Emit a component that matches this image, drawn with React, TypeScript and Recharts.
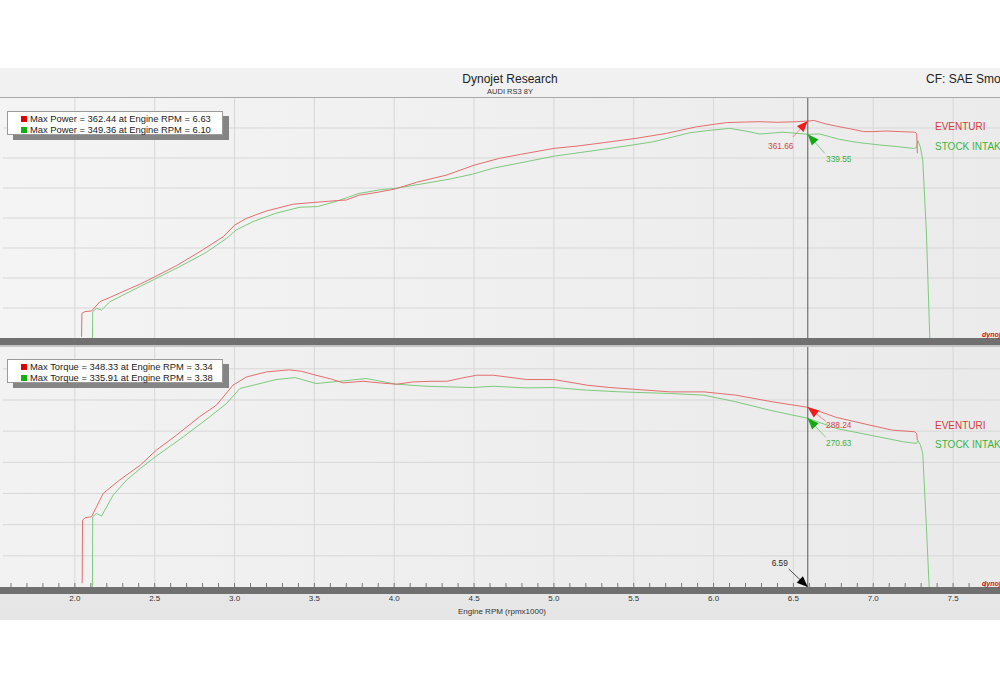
import React from "react"
import { LineChart, Line, XAxis, YAxis, ReferenceLine, ReferenceDot, Label } from "recharts"

// engine rpm (x1000) and power
const powerEventuriRpm = [2.042, 2.044, 2.063, 2.104, 2.157, 2.24, 2.324, 2.41, 2.5, 2.637, 2.8, 2.93, 3.0, 3.075, 3.2, 3.367, 3.5, 3.64, 3.7, 3.78, 3.9, 4.0, 4.14, 4.33, 4.5, 4.66, 4.79, 5.0, 5.15, 5.31, 5.52, 5.705, 5.893, 6.08, 6.2, 6.29, 6.4, 6.52, 6.59, 6.63, 6.7, 6.77, 6.85, 6.94, 7.0, 7.08, 7.17, 7.26, 7.272, 7.276]
const powerEventuriHp = [2, 41, 44, 45, 60.5, 70, 80, 90, 102, 120.6, 146.7, 169, 188, 199.5, 211.7, 223, 226, 229, 230, 238, 243, 248, 259.5, 271.7, 288, 299.5, 306, 316, 320, 325.5, 333, 341, 352, 359, 360, 360.5, 359.5, 360.5, 361.66, 362.44, 357, 353, 349, 344, 344, 345, 344, 343, 341, 308]

const powerStockRpm = [2.11, 2.112, 2.136, 2.167, 2.22, 2.324, 2.41, 2.5, 2.657, 2.825, 2.95, 3.01, 3.116, 3.26, 3.41, 3.52, 3.64, 3.78, 3.91, 4.01, 4.2, 4.35, 4.49, 4.62, 4.83, 5.0, 5.31, 5.5, 5.62, 5.745, 5.85, 5.955, 6.1, 6.2, 6.29, 6.435, 6.59, 6.665, 6.79, 6.9, 7.04, 7.15, 7.25, 7.27, 7.28, 7.295, 7.31, 7.333, 7.354]
const powerStockHp = [0, 44, 49.5, 46.7, 60.5, 74.5, 86, 98, 119, 143, 166, 180, 194, 208, 218, 219, 228, 241, 247, 249.5, 258, 265, 273, 283, 294, 303, 314.5, 322, 327, 335, 342, 345.5, 349.36, 345, 340, 343, 339.55, 340, 331, 326, 321.7, 319, 316, 317, 329, 318, 296.7, 175, 0]

// engine rpm (x1000) and torque
const torqueEventuriRpm = [2.046, 2.048, 2.063, 2.104, 2.136, 2.177, 2.28, 2.41, 2.51, 2.637, 2.78, 2.887, 2.99, 3.075, 3.2, 3.34, 3.42, 3.51, 3.6, 3.68, 3.805, 3.91, 4.014, 4.12, 4.23, 4.33, 4.42, 4.515, 4.62, 4.83, 5.0, 5.21, 5.35, 5.52, 5.73, 5.94, 6.14, 6.37, 6.59, 6.77, 6.98, 7.12, 7.26, 7.272, 7.276]
const torqueEventuriLbft = [6, 107, 111, 112.7, 128.7, 150, 171.5, 195.5, 219.5, 243.6, 273, 291.7, 323.7, 337, 345, 348.33, 346, 339.7, 334, 327.4, 330, 327.4, 325.3, 329, 330, 330, 335, 339.7, 339.7, 332.8, 332.8, 323.7, 320, 316.8, 313, 313, 307.7, 297, 288.24, 272, 259.6, 251.6, 249, 246, 235.6]

const torqueStockRpm = [2.11, 2.112, 2.136, 2.167, 2.24, 2.324, 2.41, 2.51, 2.68, 2.845, 2.95, 3.034, 3.16, 3.26, 3.38, 3.51, 3.68, 3.825, 4.014, 4.2, 4.49, 4.62, 4.83, 5.0, 5.21, 5.42, 5.73, 5.94, 6.14, 6.35, 6.59, 6.77, 6.98, 7.19, 7.27, 7.28, 7.295, 7.31, 7.333, 7.35]
const torqueStockLbft = [0, 112.7, 118, 113.8, 147.4, 171.5, 190, 210, 241, 273, 294.4, 318.4, 326.4, 332.8, 335.91, 326.4, 330.6, 334.4, 325.3, 322, 320, 322, 319.4, 320, 315.7, 313, 310.4, 307.7, 297, 283.7, 270.63, 254.3, 243.6, 232.9, 230.3, 235, 228, 214, 96.6, 0]

const rpmDomain: [number, number] = [1.55, 7.8]
const rpmMajor = [2.0, 2.5, 3.0, 3.5, 4.0, 4.5, 5.0, 5.5, 6.0, 6.5, 7.0, 7.5]
const yGrid = [50, 100, 150, 200, 250, 300, 350]
const cursorRpm = 6.59

const powerDomain: [number, number] = [0, 400]
const torqueDomain: [number, number] = [0, 385]

const rpmMinor = Array.from({ length: 63 }, (_, i) => Math.round((1.6 + i * 0.1) * 10) / 10)
const powerMinor = Array.from({ length: 41 }, (_, i) => i * 10)
const torqueMinor = Array.from({ length: 39 }, (_, i) => i * 10)

const RED = "#e36d6d"
const GREEN = "#7dca7d"
const FONT = "'Liberation Sans', Arial, sans-serif"
const W = 1001

const pts = (rpm: number[], v: number[]) => rpm.map((r, i) => ({ rpm: r, v: v[i] }))

function Pointer(props: any) {
  const { cx, cy, fill, lineColor, ex, ey, tx, ty, text, textColor } = props
  if (cx == null || cy == null) return null
  const len = Math.hypot(ex, ey)
  const ux = ex / len
  const uy = ey / len
  const bx = cx + ux * 11
  const by = cy + uy * 11
  const nx = -uy * 4.5
  const ny = ux * 4.5
  return (
    <g>
      <line x1={cx} y1={cy} x2={cx + ex} y2={cy + ey} stroke={lineColor} strokeWidth={0.8} />
      <polygon points={`${cx},${cy} ${bx + nx},${by + ny} ${bx - nx},${by - ny}`} fill={fill} />
      <text x={cx + tx} y={cy + ty} textAnchor="middle" fontSize={8.3} fill={textColor} fontFamily={FONT}>
        {text}
      </text>
    </g>
  )
}

const RpmTick = ({ x, y, payload }: any) => {
  const v = Number(payload.value)
  const major = rpmMajor.some((m) => Math.abs(m - v) < 1e-6)
  return (
    <g>
      <line x1={x} x2={x} y1={y - 4} y2={y} stroke="#777" strokeWidth={1} />
      {major && (
        <text x={x} y={y + 14} textAnchor="middle" fontSize={8} fill="#333" fontFamily={FONT}>
          {v.toFixed(1)}
        </text>
      )}
    </g>
  )
}

function gridLines() {
  return [
    ...rpmMajor.map((r) => <ReferenceLine key={`gx${r}`} x={r} stroke="#d7d7d7" strokeWidth={1} />),
    ...yGrid.map((g) => <ReferenceLine key={`gy${g}`} y={g} stroke="#d7d7d7" strokeWidth={1} />),
  ]
}

const Legend = ({ top, rows }: { top: number; rows: { color: string; text: string }[] }) => (
  <>
    <div style={{ position: "absolute", left: 13, top: top + 5, width: 216, height: 24, background: "#858585" }} />
    <div
      style={{
        position: "absolute",
        left: 7,
        top,
        width: 214,
        height: 22,
        background: "#fff",
        border: "1px solid #9a9a9a",
        fontFamily: FONT,
        fontSize: 9.4,
        color: "#222",
      }}
    >
      {rows.map((r, i) => (
        <div key={i} style={{ position: "absolute", left: 13, top: 1 + i * 11, height: 11, lineHeight: "11px", whiteSpace: "nowrap" }}>
          <span style={{ display: "inline-block", width: 6, height: 6, background: r.color, marginRight: 3, verticalAlign: "0px" }} />
          {r.text}
        </div>
      ))}
    </div>
  </>
)

const txt = (left: number, top: number, size: number, color: string, s: string, extra: any = {}) => (
  <div style={{ position: "absolute", left, top, fontSize: size, lineHeight: `${size}px`, color, fontFamily: FONT, whiteSpace: "nowrap", ...extra }}>
    {s}
  </div>
)

export default function App() {
  return (
    <div style={{ position: "fixed", left: 0, top: 0, width: 1000, height: 690, overflow: "hidden", background: "#fff" }}>
      {/* sheet background */}
      <div style={{ position: "absolute", left: 0, top: 68, width: 1000, height: 552, background: "linear-gradient(to bottom, #f1f1f1, #e6e6e6)" }} />
      <div style={{ position: "absolute", left: 0, top: 98, width: 1000, height: 240, background: "linear-gradient(to right, #f4f4f4, #ebebeb)" }} />
      <div style={{ position: "absolute", left: 0, top: 347, width: 1000, height: 240, background: "linear-gradient(to right, #f2f2f2, #eaeaea)" }} />
      <div style={{ position: "absolute", left: 0, top: 97, width: 1000, height: 1, background: "#a9a9a9" }} />

      {/* power panel */}
      <div style={{ position: "absolute", left: 0, top: 98 }}>
        <LineChart width={W} height={240} margin={{ top: 0, right: 0, bottom: 0, left: 0 }}>
          <XAxis type="number" dataKey="rpm" domain={rpmDomain} allowDataOverflow hide />
          <YAxis type="number" domain={powerDomain} ticks={powerMinor} width={3} tick={false} tickSize={3} axisLine={false} tickLine={{ stroke: "#777" }} allowDataOverflow />
          {gridLines()}
          <Line data={pts(powerStockRpm, powerStockHp)} dataKey="v" type="linear" stroke={GREEN} strokeWidth={1} dot={false} isAnimationActive={false} />
          <Line data={pts(powerEventuriRpm, powerEventuriHp)} dataKey="v" type="linear" stroke={RED} strokeWidth={1} dot={false} isAnimationActive={false} />
          <ReferenceLine x={cursorRpm} stroke="#5a5a5a" strokeWidth={1} />
          <ReferenceDot x={cursorRpm} y={361.66} r={0} ifOverflow="visible"
            shape={(p: any) => <Pointer {...p} fill="#ee1c1c" lineColor="#e07070" textColor="#d24848" ex={-15} ey={16} tx={-27} ty={28} text="361.66" />} />
          <ReferenceDot x={cursorRpm} y={339.55} r={0} ifOverflow="visible"
            shape={(p: any) => <Pointer {...p} fill="#14a814" lineColor="#6cc06c" textColor="#3cae3c" ex={17} ey={19} tx={31} ty={28} text="339.55" />} />
        </LineChart>
      </div>

      {/* torque panel */}
      <div style={{ position: "absolute", left: 0, top: 347 }}>
        <LineChart width={W} height={273} margin={{ top: 0, right: 0, bottom: 0, left: 0 }}>
          <XAxis type="number" dataKey="rpm" domain={rpmDomain} allowDataOverflow ticks={rpmMinor} interval={0} tick={<RpmTick />} tickSize={0} tickMargin={0} tickLine={false} axisLine={false} height={33}>
            <Label value="Engine RPM (rpmx1000)" position="insideBottom" offset={6} fontSize={8} fill="#333" fontFamily={FONT} />
          </XAxis>
          <YAxis type="number" domain={torqueDomain} ticks={torqueMinor} width={3} tick={false} tickSize={3} axisLine={false} tickLine={{ stroke: "#777" }} allowDataOverflow />
          {gridLines()}
          <Line data={pts(torqueStockRpm, torqueStockLbft)} dataKey="v" type="linear" stroke={GREEN} strokeWidth={1} dot={false} isAnimationActive={false} />
          <Line data={pts(torqueEventuriRpm, torqueEventuriLbft)} dataKey="v" type="linear" stroke={RED} strokeWidth={1} dot={false} isAnimationActive={false} />
          <ReferenceLine x={cursorRpm} stroke="#5a5a5a" strokeWidth={1} />
          <ReferenceDot x={cursorRpm} y={288.24} r={0} ifOverflow="visible"
            shape={(p: any) => <Pointer {...p} fill="#ee1c1c" lineColor="#e07070" textColor="#d24848" ex={18} ey={14} tx={31} ty={21} text="288.24" />} />
          <ReferenceDot x={cursorRpm} y={270.63} r={0} ifOverflow="visible"
            shape={(p: any) => <Pointer {...p} fill="#14a814" lineColor="#6cc06c" textColor="#3cae3c" ex={18} ey={19} tx={31} ty={27.5} text="270.63" />} />
          <ReferenceDot x={cursorRpm} y={0} r={0} ifOverflow="visible"
            shape={(p: any) => <Pointer {...p} fill="#000" lineColor="#222" textColor="#222" ex={-19} ey={-18} tx={-28} ty={-21} text="6.59" />} />
        </LineChart>
      </div>

      {/* axis bars */}
      <div style={{ position: "absolute", left: 0, top: 338, width: 1000, height: 7, background: "#707070" }} />
      <div style={{ position: "absolute", left: 0, top: 345, width: 1000, height: 2, background: "#c4c4c4" }} />
      <div style={{ position: "absolute", left: 0, top: 587, width: 1000, height: 7, background: "#707070" }} />

      {/* titles */}
      {txt(0, 73, 12, "#222", "Dynojet Research", { width: 1020, textAlign: "center" })}
      {txt(0, 87.5, 7.5, "#333", "AUDI RS3 8Y", { width: 1020, textAlign: "center" })}
      {txt(926, 73, 12, "#222", "CF: SAE Smoothing 5")}

      {/* series names */}
      {txt(935, 122, 10, "#d33c3c", "EVENTURI")}
      {txt(935, 142, 10, "#3cb43c", "STOCK INTAKE")}
      {txt(935, 421, 10, "#d33c3c", "EVENTURI")}
      {txt(935, 440, 10, "#3cb43c", "STOCK INTAKE")}

      {txt(982, 331, 7, "#d02020", "dynojet", { fontStyle: "italic", fontWeight: 700 })}
      {txt(982, 580, 7, "#d02020", "dynojet", { fontStyle: "italic", fontWeight: 700 })}

      <Legend
        top={111}
        rows={[
          { color: "#e00000", text: "Max Power = 362.44 at Engine RPM = 6.63" },
          { color: "#10b010", text: "Max Power = 349.36 at Engine RPM = 6.10" },
        ]}
      />
      <Legend
        top={359}
        rows={[
          { color: "#e00000", text: "Max Torque = 348.33 at Engine RPM = 3.34" },
          { color: "#10b010", text: "Max Torque = 335.91 at Engine RPM = 3.38" },
        ]}
      />
    </div>
  )
}
